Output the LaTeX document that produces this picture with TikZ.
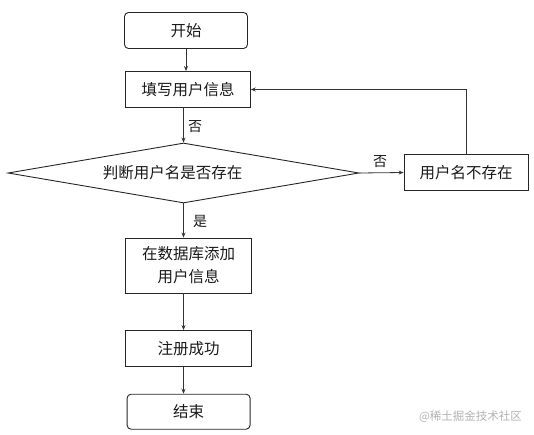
\documentclass[tikz,border=0pt]{standalone}
\usepackage{fontspec}
\setmainfont{Noto Sans CJK SC}
\usetikzlibrary{shapes.geometric,arrows.meta}
\begin{document}
\begin{tikzpicture}[x=1pt,y=-1pt,
  every node/.style={font=\fontsize{15.5}{18}\selectfont, text=black!90},
  term/.style={draw=black!85, line width=0.9pt, rounded corners=4pt, minimum width=123pt, minimum height=36pt, inner sep=0pt},
  proc/.style={draw=black!85, line width=0.9pt, minimum width=125pt, minimum height=36pt, inner sep=0pt, align=center},
  cond/.style={draw=black!85, line width=0.9pt, diamond, minimum width=351pt, minimum height=60pt, inner sep=0pt},
  arr/.style={draw=black!80, line width=0.8pt, -{Stealth[length=5pt,width=4pt]}},
  lbl/.style={font=\fontsize{14}{16}\selectfont, inner sep=0pt}
]
\useasboundingbox (0,0) rectangle (534,435);
\node[term] (start) at (186,30.5) {开始};
\node[proc, minimum width=124.5pt] (fill) at (188,89.5) {填写用户信息};
\node[cond] (d) at (183.5,173) {};
\node[inner sep=0pt] (dt) at (172.5,173) {判断用户名是否存在};
\node[proc, minimum width=124pt, minimum height=36.5pt] (ne) at (466,172.5) {用户名不存在};
\node[proc, minimum width=126pt, minimum height=55pt, font=\fontsize{15.5}{23}\selectfont] (db) at (188.7,265.5) {在数据库添加\\用户信息};
\node[proc, minimum width=126pt, minimum height=35.5pt] (reg) at (188.7,348.3) {注册成功};
\node[term, minimum width=123pt, minimum height=35pt] (end) at (188.6,411.7) {结束};
\node[font=\fontsize{11.5}{13}\selectfont, text=black!30, inner sep=0pt] (wm) at (470.5,417) {@稀土掘金技术社区};

\draw[arr] (start.south) -- (start.south |- fill.north);
\draw[arr] (d.north |- fill.south) -- (d.north);
\draw[arr] (d.east) -- (ne.west);
\draw[arr] (ne.north) |- (fill.east);
\draw[arr] (d.south) -- (d.south |- db.north);
\draw[arr] (d.south |- db.south) -- (d.south |- reg.north);
\draw[arr] (d.south |- reg.south) -- (d.south |- end.north);

\node[lbl] (l1) at (195,126.5) {否};
\node[lbl] (l2) at (380,162) {否};
\node[lbl] (l3) at (200,221) {是};
\end{tikzpicture}
\end{document}
